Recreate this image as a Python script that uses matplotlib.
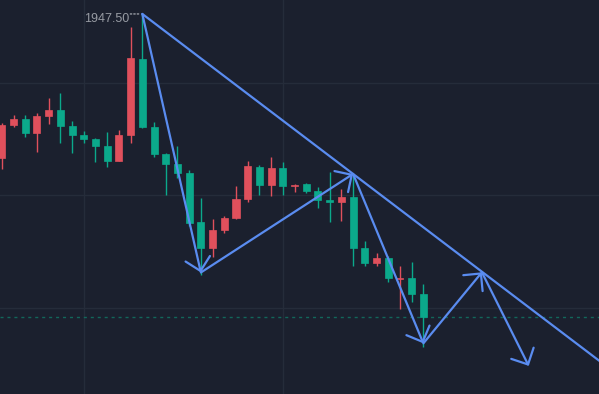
import matplotlib
matplotlib.use("Agg")
import matplotlib.pyplot as plt
from matplotlib.patches import FancyArrowPatch
import numpy as np

# OHLC candles (index = bar number)
opens = [1941.11, 1942.57, 1942.83, 1942.22, 1942.98, 1943.23, 1942.52, 1942.12, 1941.93, 1941.63,
         1940.97, 1942.12, 1945.50, 1942.48, 1941.28, 1940.83, 1940.43, 1938.26, 1937.10, 1937.90,
         1938.43, 1939.28, 1940.70, 1939.90, 1940.66, 1939.86, 1939.94, 1939.63, 1939.23, 1939.14,
         1939.37, 1937.10, 1936.45, 1936.66, 1935.74, 1935.77, 1935.06]
highs = [1942.66, 1943.01, 1943.01, 1943.10, 1943.77, 1943.99, 1942.74, 1942.30, 1941.99, 1942.26,
         1942.34, 1946.92, 1947.50, 1942.70, 1941.32, 1941.63, 1940.57, 1939.32, 1938.39, 1938.52,
         1939.86, 1940.97, 1940.79, 1941.14, 1940.92, 1939.94, 1939.99, 1939.81, 1940.48, 1939.72,
         1940.39, 1937.42, 1936.89, 1936.74, 1936.30, 1936.48, 1935.50]
lows = [1940.61, 1942.48, 1942.03, 1941.37, 1942.62, 1941.77, 1941.34, 1941.77, 1940.92, 1940.70,
        1940.97, 1941.77, 1942.43, 1941.14, 1939.46, 1940.21, 1938.08, 1935.92, 1936.70, 1937.77,
        1938.39, 1939.14, 1939.46, 1939.41, 1939.46, 1939.59, 1939.54, 1938.88, 1938.26, 1938.30,
        1936.31, 1936.31, 1936.31, 1935.60, 1934.39, 1934.70, 1932.70]
closes = [1942.57, 1942.83, 1942.21, 1942.97, 1943.23, 1942.54, 1942.14, 1941.94, 1941.65, 1940.98,
          1942.12, 1945.54, 1942.48, 1941.28, 1940.83, 1940.43, 1938.21, 1937.10, 1937.90, 1938.43,
          1939.28, 1940.74, 1939.90, 1940.66, 1939.86, 1939.90, 1939.63, 1939.23, 1939.14, 1939.37,
          1937.10, 1936.45, 1936.67, 1935.78, 1935.77, 1935.07, 1934.03]

# Projected wave path (bar index, price)
wave_x = [12, 17, 30, 36, 41, 45]
wave_y = [1947.50, 1936.01, 1940.39, 1932.86, 1936.02, 1931.86]

peak_label = "1947.50"
grid_prices = [1944.43, 1939.46, 1934.43]
grid_bars = [7, 24]

BG = "#1b202e"
UP = "#e0505c"
DOWN = "#0ba98b"
BLUE = "#5a8cf0"
GRID = "#252c3a"

fig = plt.figure(figsize=(5.99, 3.94), dpi=100, facecolor=BG)
ax = fig.add_axes([0, 0, 1, 1], facecolor=BG)
ax.set_xlim(-0.154, 51.0)
ax.set_ylim(1930.61, 1948.12)

# grid
for gp in grid_prices:
    ax.axhline(gp, color=GRID, lw=1.0, zorder=0)
for gb in grid_bars:
    ax.axvline(gb, color=GRID, lw=1.0, zorder=0)

# last price line
ax.axhline(closes[-1], color="#12675b", lw=1.0, ls=(0, (2.2, 2.8)), zorder=1)

# candles
x = np.arange(len(opens))
o = np.array(opens); c = np.array(closes)
h = np.array(highs); l = np.array(lows)
cols = [UP if ci >= oi else DOWN for oi, ci in zip(o, c)]
ax.vlines(x, l, h, colors=cols, lw=1.0, zorder=2)
body_lo = np.minimum(o, c)
body_h = np.maximum(np.abs(c - o), 0.045)
ax.bar(x, body_h, bottom=body_lo, width=0.6, color=cols, edgecolor=cols, lw=0.5, zorder=3)

# trend line from the top through the second pivot, extended to the right
slope = (wave_y[2] - wave_y[0]) / (wave_x[2] - wave_x[0])
x_end = 53
ax.plot([wave_x[0], x_end], [wave_y[0], wave_y[0] + slope * (x_end - wave_x[0])],
        color=BLUE, lw=1.6, solid_capstyle="round", zorder=5)

# wave arrows
for i in range(len(wave_x) - 1):
    arr = FancyArrowPatch((wave_x[i], wave_y[i]), (wave_x[i + 1], wave_y[i + 1]),
                          arrowstyle="->,head_length=0.9,head_width=0.9",
                          mutation_scale=10, shrinkA=0, shrinkB=0,
                          color=BLUE, lw=1.6, capstyle="round", joinstyle="round",
                          zorder=5)
    ax.add_patch(arr)

# peak label with dotted leader
ax.annotate("", xy=(wave_x[0], highs[12]), xytext=(-12, 0), textcoords="offset pixels",
            arrowprops=dict(arrowstyle="-", linestyle=(0, (1, 1.5)), color="#9a9ea6", lw=1.0,
                            shrinkA=0, shrinkB=2), zorder=4)
ax.annotate(peak_label, xy=(wave_x[0], highs[12]), xytext=(-13, 1), textcoords="offset pixels",
            ha="right", va="top", color="#979ba3", fontsize=9, family="Liberation Sans", zorder=4)

for s in ax.spines.values():
    s.set_visible(False)
ax.set_xticks([]); ax.set_yticks([])

fig.savefig("out.png", dpi=100, facecolor=BG)
